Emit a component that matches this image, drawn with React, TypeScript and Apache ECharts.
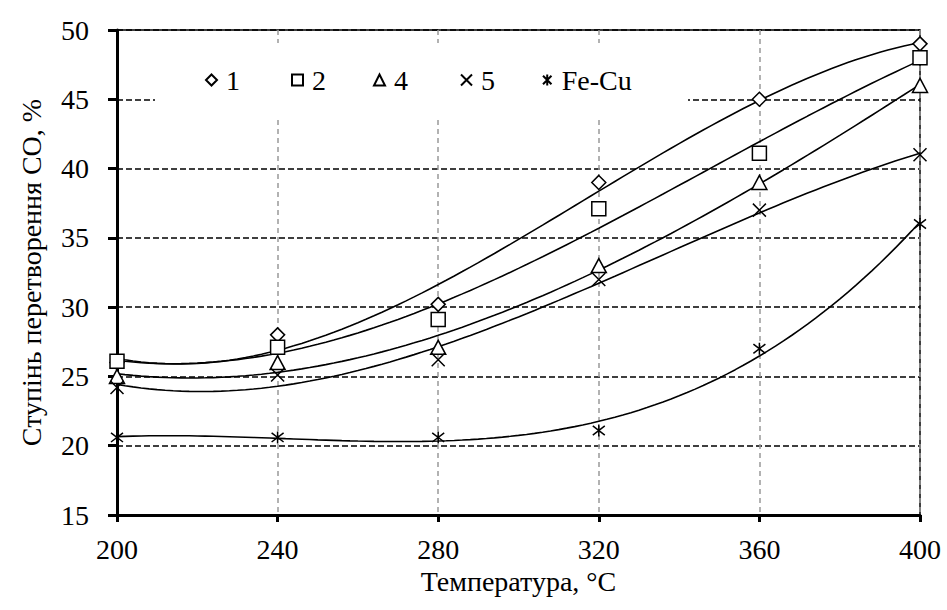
import React, { useEffect, useRef } from "react";
import * as echarts from "echarts";

const temperatures = [200, 240, 280, 320, 360, 400];
const seriesNames = ["1", "2", "4", "5", "Fe-Cu"];
const values1 = [26, 28, 30.2, 39, 45, 49];
const values2 = [26.1, 27.1, 29.1, 37.1, 41.1, 48];
const values4 = [25, 26, 27.1, 33, 39, 46];
const values5 = [24.2, 25.1, 26.2, 32, 37, 41];
const valuesFeCu = [20.6, 20.6, 20.6, 21.1, 27, 36];
const xTicks = { min: 200, max: 400, interval: 40 };
const yTicks = { min: 15, max: 50, interval: 5 };

const FONT = "Liberation Serif";
const CROSS = "path://M0,0L10,10M10,0L0,10";
const STAR = "path://M0,0L10,10M10,0L0,10M5,-1.5L5,11.5";

function polyfit(xs: number[], ys: number[], deg: number) {
  const n = deg + 1;
  const A: number[][] = Array.from({ length: n }, () => new Array(n + 1).fill(0));
  xs.forEach((x, k) => {
    const t = (x - 300) / 100;
    for (let i = 0; i < n; i++) {
      for (let j = 0; j < n; j++) A[i][j] += Math.pow(t, i + j);
      A[i][n] += ys[k] * Math.pow(t, i);
    }
  });
  for (let c = 0; c < n; c++) {
    let p = c;
    for (let r = c + 1; r < n; r++) if (Math.abs(A[r][c]) > Math.abs(A[p][c])) p = r;
    [A[c], A[p]] = [A[p], A[c]];
    for (let r = 0; r < n; r++) {
      if (r === c) continue;
      const f = A[r][c] / A[c][c];
      for (let k = c; k <= n; k++) A[r][k] -= f * A[c][k];
    }
  }
  const coef = A.map((row, i) => row[n] / row[i]);
  return (x: number) => {
    const t = (x - 300) / 100;
    return coef.reduce((s, c, i) => s + c * Math.pow(t, i), 0);
  };
}

function trend(ys: number[]) {
  const f = polyfit(temperatures, ys, 3);
  const pts: number[][] = [];
  for (let x = temperatures[0]; x <= temperatures[temperatures.length - 1]; x += 2) pts.push([x, f(x)]);
  return pts;
}

const allValues = [values1, values2, values4, values5, valuesFeCu];
const symbols = ["diamond", "rect", "triangle", CROSS, STAR];
const symbolSizes = [[14, 14], [14, 14], [15, 14], 13, 12];
const legendLefts = [205, 291, 373, 460, 542];

export default function App() {
  const ref = useRef<HTMLDivElement>(null);
  useEffect(() => {
    const chart = echarts.init(ref.current!, null, { renderer: "svg" });
    const scatterSeries = allValues.map((vals, i) => ({
      name: seriesNames[i],
      type: "scatter",
      data: temperatures.map((t, k) => [t, vals[k]]),
      symbol: symbols[i],
      symbolSize: symbolSizes[i],
      clip: false,
      z: 5,
      itemStyle: { color: "#fff", borderColor: "#000", borderWidth: 1.5, opacity: 1 },
    }));
    const trendSeries = allValues.map((vals, i) => ({
      name: "trend" + i,
      type: "line",
      data: trend(vals),
      showSymbol: false,
      symbol: "none",
      smooth: false,
      z: 4,
      lineStyle: { color: "#000", width: 1.6 },
      silent: true,
    }));
    const option: any = {
      animation: false,
      backgroundColor: "#fff",
      textStyle: { fontFamily: FONT },
      grid: {
        left: 117,
        right: 27,
        top: 30,
        bottom: 95,
        show: true,
        borderColor: "#000",
        borderWidth: 1.5,
        backgroundColor: "transparent",
      },
      xAxis: {
        type: "value",
        min: xTicks.min,
        max: xTicks.max,
        interval: xTicks.interval,
        name: "Температура, °C",
        nameLocation: "middle",
        nameGap: 50,
        nameTextStyle: { fontFamily: FONT, fontSize: 28, color: "#000" },
        axisLine: { show: true, lineStyle: { color: "#000", width: 3 } },
        axisTick: { show: true, inside: false, length: 7, lineStyle: { color: "#000", width: 3 } },
        axisLabel: { fontFamily: FONT, fontSize: 28, color: "#000", margin: 20 },
        splitLine: { show: true, lineStyle: { color: "#999", width: 1.5, type: [5, 4] } },
      },
      yAxis: {
        type: "value",
        min: yTicks.min,
        max: yTicks.max,
        interval: yTicks.interval,
        name: "Ступінь перетворення СО, %",
        nameLocation: "middle",
        nameGap: 72,
        nameTextStyle: { fontFamily: FONT, fontSize: 28, color: "#000" },
        axisLine: { show: true, lineStyle: { color: "#000", width: 3 } },
        axisTick: { show: true, inside: false, length: 9, lineStyle: { color: "#000", width: 3 } },
        axisLabel: { fontFamily: FONT, fontSize: 28, color: "#000", margin: 28 },
        splitLine: { show: true, lineStyle: { color: "#000", width: 1.5, type: [6, 3] } },
      },
      graphic: [
        {
          type: "rect",
          shape: { x: 155, y: 43, width: 533, height: 74 },
          style: { fill: "#fff" },
          z: 3,
          silent: true,
        },
      ],
      legend: seriesNames.map((nm, i) => ({
        data: [nm],
        left: legendLefts[i],
        top: 66,
        padding: 0,
        itemGap: 0,
        itemWidth: 11,
        itemHeight: 11,
        selectedMode: false,
        z: 6,
        textStyle: { fontFamily: FONT, fontSize: 28, color: "#000", lineHeight: 28, padding: [0, 0, 0, 4] },
      })),
      series: [...trendSeries, ...scatterSeries],
    };
    chart.setOption(option);
    return () => chart.dispose();
  }, []);
  return (
    <div
      ref={ref}
      style={{ position: "absolute", left: 0, top: 0, width: 947, height: 610 }}
    />
  );
}
